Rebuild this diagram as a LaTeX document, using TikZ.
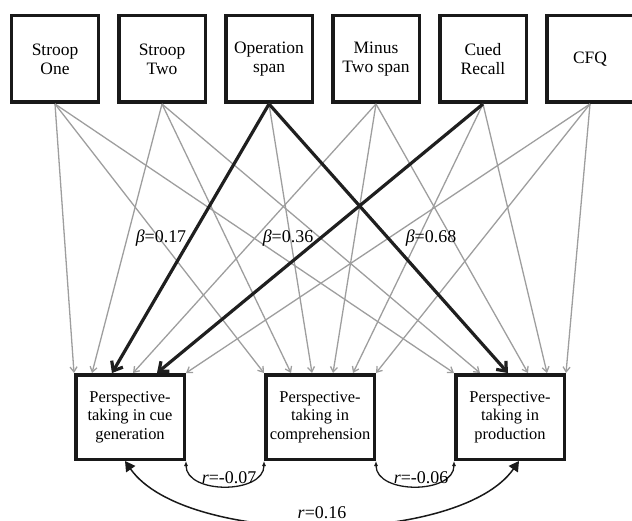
\documentclass[tikz,border=0pt]{standalone}
\usepackage{fontspec}
\setmainfont{Liberation Serif}
\usetikzlibrary{positioning,arrows.meta}
\tikzset{
    measure/.style={draw=black!90, line width=3.5bp, minimum width=86.5bp, minimum height=86.5bp, align=center, inner sep=1bp, font=\fontsize{17.5}{19}\selectfont},
    outcome/.style={draw=black!90, line width=3.5bp, minimum width=108.5bp, minimum height=84.5bp, align=center, inner sep=1bp, font=\fontsize{16.5}{18.5}\selectfont},
    weak/.style={draw=black!38, line width=1.3bp, -{Straight Barb[length=5bp,width=7bp]}},
    strong/.style={draw=black!88, line width=3.2bp, -{Straight Barb[length=8bp,width=13bp]}},
    corr/.style={draw=black!90, line width=1.3bp, {Latex[length=5bp,width=4bp]}-{Latex[length=5bp,width=4bp]}},
    corrbig/.style={draw=black!90, line width=1.5bp, {Triangle[length=10bp,width=11bp]}-{Triangle[length=10bp,width=11bp]}},
    coef/.style={inner sep=1bp, font=\fontsize{18}{20}\selectfont},
}
\begin{document}
\begin{tikzpicture}[x=1bp,y=-1bp]
    \useasboundingbox (0,0) rectangle (632,521);
    \foreach \txt [count=\i] in {Stroop\\One, Stroop\\Two, Operation\\span, Minus\\Two span, Cued\\Recall, CFQ}
        \node[measure] (m\i) at ({55+107*(\i-1)},59) {\txt};
    \node[outcome] (p1) at (130,417) {Perspective-\\taking in cue\\generation};
    \node[outcome, right=78bp of p1] (p2) {Perspective-\\taking in\\comprehension};
    \node[outcome, right=78bp of p2] (p3) {Perspective-\\taking in\\production};
    \foreach \j/\offs in {1/{0,18,38,59,83,112}, 2/{0,27,48,69,89,112}, 3/{0,26,54,74,93,112}}
        \foreach \o [count=\i] in \offs
            \draw[weak] (m\i.south) -- ([xshift=\o bp]p\j.north west);
    \draw[strong] (m3.south) -- ([xshift=38bp]p1.north west);
    \draw[strong] (m5.south) -- ([xshift=83bp]p1.north west);
    \draw[strong] (m3.south) -- ([xshift=54bp]p3.north west);
    \node[coef] (b1) at (161,238) {\textit{β}=0.17};
    \node[coef] (b2) at (288,238) {\textit{β}=0.36};
    \node[coef] (b3) at (431,238) {\textit{β}=0.68};
    \draw[corr] (p1.south east) to[out=-90,in=-90,looseness=1.1] node[coef,above=1bp,xshift=4bp] {\textit{r}=-0.07} (p2.south west);
    \draw[corr] (p2.south east) to[out=-90,in=-90,looseness=1.1] node[coef,above=1bp,xshift=6bp] {\textit{r}=-0.06} (p3.south west);
    \draw[corrbig] ([xshift=-5bp]p1.south) to[out=-55,in=-125,looseness=0.68] node[coef,above=5bp] {\textit{r}=0.16} ([xshift=9bp]p3.south);
\end{tikzpicture}
\end{document}
